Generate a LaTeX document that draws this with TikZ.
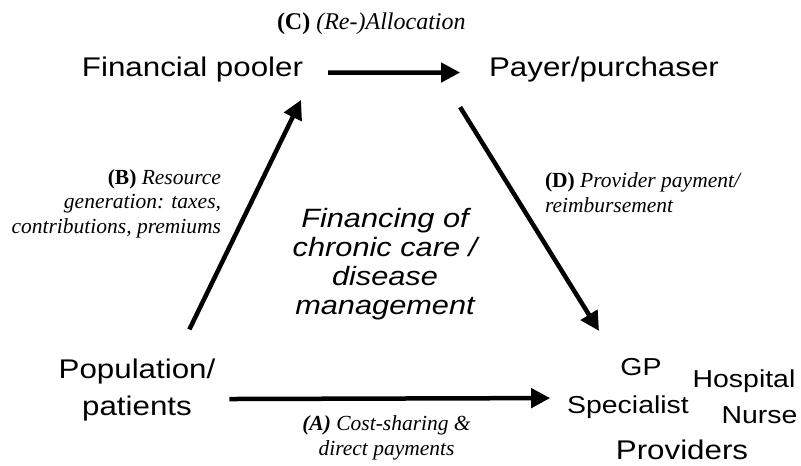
\documentclass[tikz,border=0pt]{standalone}
\usepackage{fontspec}
\setmainfont{Liberation Serif}
\newfontfamily\wsans[FakeStretch=1.16]{Liberation Sans}
\usetikzlibrary{arrows.meta}
\begin{document}
\begin{tikzpicture}[x=1pt,y=-1pt,
  every node/.style={inner sep=0pt, outer sep=0pt},
  actor/.style={font=\wsans\fontsize{27}{37}\selectfont, align=center, anchor=base},
  member/.style={font=\wsans\fontsize{24.5}{30}\selectfont, anchor=base},
  theme/.style={font=\wsans\itshape\fontsize{26.5}{29}\selectfont, align=center, anchor=base},
  flowlabel/.style={font=\fontsize{21.5}{24.5}\selectfont\itshape},
  flow/.style={line width=4.5pt, -{Triangle[length=19pt,width=19pt]}}]
\useasboundingbox (0,0) rectangle (801,466);

% actors of the financing flow (multi-line nodes sit on their last baseline)
\node[actor] (pooler) at (192.5,76.7) {Financial pooler};
\node[actor] (payer) at (604,76.5) {Payer/purchaser};
\node[actor] (pop) at (137,415) {Population/\\patients};

% provider cluster
\node[member] (gp) at (641,375) {GP};
\node[member] (spec) at (628,413) {Specialist};
\node[member] (hosp) at (744,387) {Hospital};
\node[member] (nurse) at (759.5,423) {Nurse};
\node[actor] (prov) at (682,459) {Providers};

% central theme
\node[theme] (theme) at (385,314) {Financing of\\chronic care /\\disease\\management};

% flow labels
\node[flowlabel, font=\fontsize{24}{27}\selectfont\itshape, anchor=base west] (labC) at (277,29) {\textbf{\upshape (C)} (Re-)Allocation};
\node[flowlabel, align=right, anchor=base east] (labB) at (221,233) {\textbf{\upshape (B)} Resource\\generation: taxes,\\contributions, premiums};
\node[flowlabel, align=left, anchor=base west] (labD) at (545,212) {\textbf{\upshape (D)} Provider payment/\\reimbursement};
\node[flowlabel, align=center, anchor=base] (labA) at (386.5,455) {\textbf{(A)} Cost-sharing \&\\direct payments};

% money flows
\draw[flow] ([shift={(25,3)}]pooler.east) -- ([shift={(-29,3)}]payer.west);
\draw[flow] ([shift={(-29,25)}]payer.south west) -- ([shift={(-42,-27)}]gp.north);
\draw[flow] ([shift={(-26,-29)}]pop.north east) -- ([shift={(-2,17.6)}]pooler.south east);
\draw[flow] ([shift={(14,9.5)}]pop.east) -- ([shift={(-17,-8.6)}]spec.west);
\end{tikzpicture}
\end{document}
